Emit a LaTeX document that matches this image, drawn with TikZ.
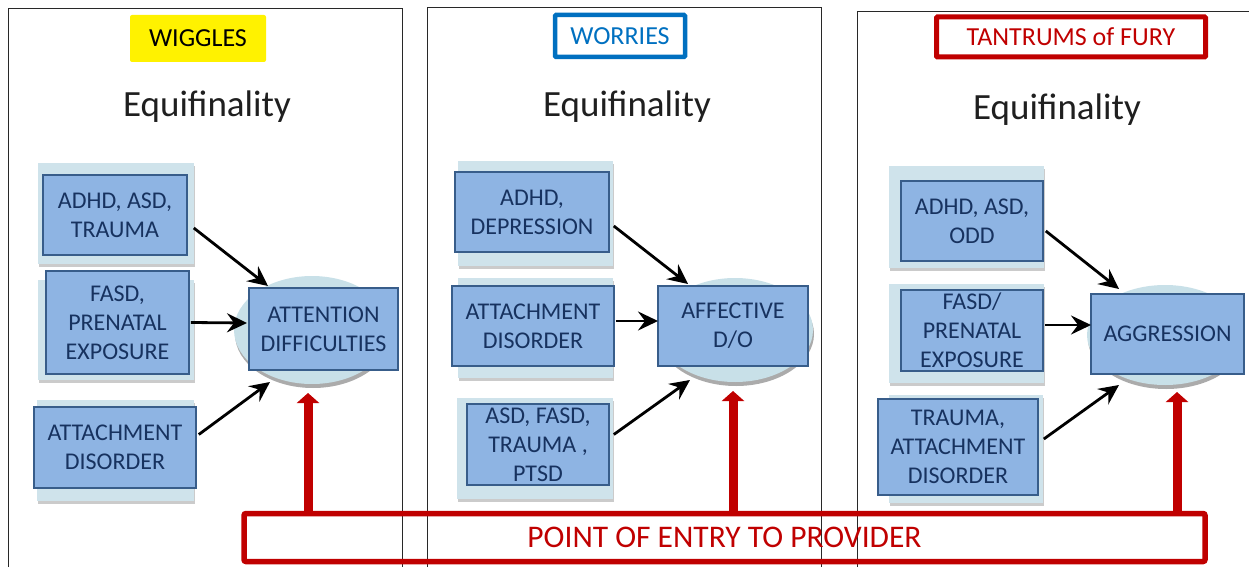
\documentclass[tikz,border=0pt]{standalone}
\usepackage{fontspec}
\setmainfont{Carlito}
\usetikzlibrary{arrows.meta,shapes.geometric,shadows}
\definecolor{boxfill}{RGB}{142,180,227}
\definecolor{boxline}{RGB}{56,93,138}
\definecolor{navy}{RGB}{23,50,95}
\definecolor{glowc}{RGB}{207,227,235}
\definecolor{ellc}{RGB}{200,224,232}
\definecolor{myred}{RGB}{192,0,0}
\definecolor{myblue}{RGB}{0,112,192}
\definecolor{panelc}{RGB}{40,40,40}
\begin{document}
\begin{tikzpicture}[x=1pt,y=-1pt,
  cbox/.style={draw=boxline, fill=boxfill, line width=1.6pt, inner sep=0pt, align=center, text=navy, font=\fontsize{24}{29}\selectfont},
  glow/.style={fill=glowc, drop shadow={shadow xshift=1pt, shadow yshift=-3pt, fill=black!45, opacity=.45}},
  ell/.style={ellipse, fill=ellc, inner sep=0pt, drop shadow={shadow xshift=1pt, shadow yshift=-4pt, fill=black!60, opacity=.55}},
  blk/.style={line width=2.8pt, -{Stealth[length=20pt,width=19pt,inset=7pt]}},
  redarrow/.style={myred, line width=9pt, -{Triangle[length=10pt,width=22pt]}},
  panel/.style={draw=panelc, line width=0.8pt},
  title/.style={font=\fontsize{37}{40}\selectfont, text=black!88, inner sep=0pt},
  tag/.style={font=\fontsize{26}{30}\selectfont, inner sep=0pt}
]
\useasboundingbox (0,0) rectangle (1249,567);

% panels
\draw[panel] (8,567) -- (8,8) -- (402,8) -- (402,567);
\draw[panel] (427,567) -- (427,7) -- (821,7) -- (821,567);
\draw[panel] (857,567) -- (857,11) -- (1249,11);

% tags
\node[tag, fill=yellow, rounded corners=2pt, minimum width=136pt, minimum height=47pt] (wig) at (198,38.5) {WIGGLES};
\node[tag, draw=myblue, line width=4.5pt, rounded corners=1pt, text=myblue, minimum width=130pt, minimum height=42pt] (wor) at (620,36) {WORRIES};
\node[tag, draw=myred, line width=5pt, rounded corners=1pt, text=myred, minimum width=269pt, minimum height=40pt] (tan) at (1071,37) {TANTRUMS of FURY};

% titles
\node[title] (eq1) at (207,107) {Equifinality};
\node[title] (eq2) at (627,107) {Equifinality};
\node[title] (eq3) at (1057,110) {Equifinality};

% glows
\fill[glow] (38,163) rectangle (194,264);
\fill[glow] (38,280) rectangle (194,380);
\fill[glow] (37,400) rectangle (194,501);
\fill[glow] (458,161) rectangle (613,266);
\fill[glow] (458,278) rectangle (613,378);
\fill[glow] (457,398) rectangle (613,499);
\fill[glow] (889,166) rectangle (1044,268);
\fill[glow] (889,284) rectangle (1044,383);
\fill[glow] (889,395) rectangle (1043,503);

% ellipses
\node[ell, minimum width=156pt, minimum height=108pt] (e1) at (312,330) {};
\node[ell, minimum width=156pt, minimum height=104pt] (e2) at (735,330) {};
\node[ell, minimum width=156pt, minimum height=100pt] (e3) at (1165,335) {};

% panel 1 boxes
\node[cbox, minimum width=144pt, minimum height=80pt] (a1) at (115,215) {ADHD, ASD,\\TRAUMA};
\node[cbox, minimum width=143pt, minimum height=103pt] (b1) at (117.5,322.5) {FASD,\\PRENATAL\\EXPOSURE};
\node[cbox, minimum width=162pt, minimum height=81pt] (c1) at (115,447.5) {ATTACHMENT\\DISORDER};
\node[cbox, minimum width=149pt, minimum height=82pt] (t1) at (323.5,329) {ATTENTION\\DIFFICULTIES};

% panel 2 boxes
\node[cbox, minimum width=154pt, minimum height=80pt] (a2) at (532,212) {ADHD,\\DEPRESSION};
\node[cbox, minimum width=162pt, minimum height=80pt] (b2) at (533,326) {ATTACHMENT\\DISORDER};
\node[cbox, minimum width=142pt, minimum height=81pt] (c2) at (538,444.5) {ASD, FASD,\\TRAUMA ,\\PTSD};
\node[cbox, minimum width=150pt, minimum height=80pt] (t2) at (733,326) {AFFECTIVE\\D/O};

% panel 3 boxes
\node[cbox, minimum width=142pt, minimum height=80pt] (a3) at (972,221) {ADHD, ASD,\\ODD};
\node[cbox, minimum width=142pt, minimum height=81pt] (b3) at (972,330.5) {FASD/\\PRENATAL\\EXPOSURE};
\node[cbox, minimum width=160pt, minimum height=96pt] (c3) at (958,447) {TRAUMA,\\ATTACHMENT\\DISORDER};
\node[cbox, minimum width=153pt, minimum height=80pt] (t3) at (1167.5,334) {AGGRESSION};

% black arrows
\coordinate (ta1) at (268,286);
\coordinate (tb1) at (247,323);
\coordinate (tc1) at (270,382);
\draw[blk] ([shift={(6,13)}]a1.east) -- (ta1);
\draw[blk] ([shift={(1,0)}]b1.east) -- (tb1);
\draw[blk] ([shift={(2,-13)}]c1.east) -- (tc1);

\coordinate (ta2) at (688,284);
\coordinate (tb2) at (658,321);
\coordinate (tc2) at (690,380);
\draw[blk] ([shift={(4,14)}]a2.east) -- (ta2);
\draw[blk] ([shift={(1,-5)}]b2.east) -- (tb2);
\draw[blk] ([shift={(4,-10)}]c2.east) -- (tc2);

\coordinate (ta3) at (1119,289);
\coordinate (tb3) at (1091,325);
\coordinate (tc3) at (1119,385);
\draw[blk] ([shift={(2,10)}]a3.east) -- (ta3);
\draw[blk] ([shift={(1,-5.5)}]b3.east) -- (tb3);
\draw[blk] ([shift={(5,-8)}]c3.east) -- (tc3);

% entry box
\node[draw=myred, line width=5.5pt, rounded corners=2pt, minimum width=961pt, minimum height=48pt, inner sep=0pt, text=myred, font=\fontsize{31.5}{36}\selectfont] (entry) at (724.5,537.5) {POINT OF ENTRY TO PROVIDER};

% red arrows
\coordinate (r1) at (308,393);
\coordinate (r2) at (733,391);
\coordinate (r3) at (1177,392);
\draw[redarrow] (entry.north -| r1) -- (r1);
\draw[redarrow] (entry.north -| r2) -- (r2);
\draw[redarrow] (entry.north -| r3) -- (r3);
\end{tikzpicture}
\end{document}
